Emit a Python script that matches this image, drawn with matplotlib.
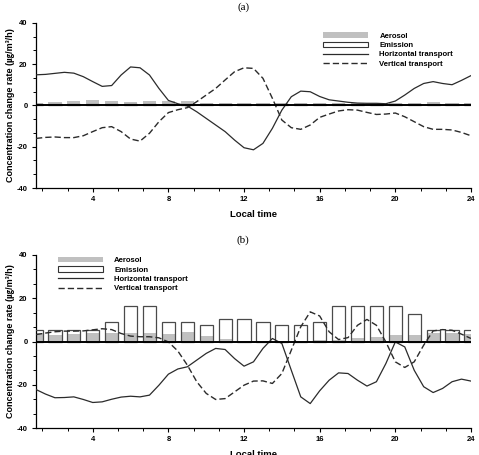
import matplotlib
matplotlib.use("Agg")
import matplotlib.pyplot as plt
import numpy as np
from matplotlib.ticker import MultipleLocator
from matplotlib.patches import Patch
from matplotlib.lines import Line2D

plt.rcParams['font.family'] = ['Liberation Sans', 'Noto Sans CJK KR', 'DejaVu Sans']
plt.rcParams['axes.unicode_minus'] = False

# hourly bars
hours = list(range(1, 25))
aerosol_a = [1.3, 1.6, 2.1, 2.4, 2.1, 1.8, 1.9, 1.9, 1.9, 1.3, 1.3, 1.0,
             1.0, 1.0, 1.0, 1.0, 1.0, 1.0, 1.0, 1.0, 1.0, 1.6, 1.2, 1.2]
emission_a = [0.5, 0.5, 0.5, 0.5, 0.5, 0.5, 0.5, 0.5, 0.5, 0.5, 0.5, 0.5,
              0.5, 0.5, 0.5, 0.5, 0.6, 0.8, 0.8, 0.8, 0.5, 0.5, 0.5, 0.5]
aerosol_b = [3.7, 3.2, 3.4, 3.7, 3.7, 3.9, 3.9, 3.4, 4.5, 2.5, 1.2, 0.3,
             0.2, 0.2, 0.2, 0.8, 0.5, 1.8, 2.3, 2.9, 3.2, 3.7, 3.7, 3.4]
emission_b = [5.5, 5.5, 5.5, 5.5, 9.2, 16.2, 16.2, 9.2, 9.2, 7.6, 10.6, 10.6,
              9.2, 7.7, 7.7, 9.2, 16.3, 16.3, 16.3, 16.3, 12.9, 5.5, 5.5, 5.5]

# transport curves, read every half hour (1.0, 1.5, ..., 24.0)
t_half = [1 + 0.5 * i for i in range(47)]
horiz_a = [14.8, 15.0, 15.5, 16.0, 15.6, 13.9, 11.5, 9.2, 9.6, 14.7, 18.6, 18.2,
           14.7, 8.2, 2.4, 0.8, -0.3, -3.1, -6.3, -9.5, -12.7, -16.8, -20.5, -21.5,
           -18.4, -11.1, -2.3, 4.2, 6.9, 6.6, 4.3, 2.7, 2.1, 1.5, 1.1, 1.0,
           1.0, 0.8, 2.1, 5.0, 8.2, 10.6, 11.5, 10.6, 10.0, 12.1, 14.4]
vert_a = [-16.0, -15.5, -15.3, -15.6, -15.6, -14.7, -12.7, -10.8, -10.3, -12.7, -16.3, -17.3,
          -13.5, -7.9, -3.5, -2.1, -1.1, 1.8, 5.0, 8.2, 12.3, 16.3, 18.2, 17.9,
          13.1, 3.4, -7.1, -10.8, -11.6, -9.5, -5.8, -4.2, -2.7, -2.1, -2.3, -3.4,
          -4.4, -4.2, -3.7, -5.5, -7.9, -10.3, -11.6, -11.6, -11.9, -13.1, -14.7]
horiz_b = [-22.2, -24.3, -26.0, -25.9, -25.6, -26.8, -28.2, -27.9, -26.7, -25.7, -25.3, -25.6,
           -24.8, -20.2, -15.1, -12.7, -11.7, -8.6, -5.5, -3.2, -3.7, -7.9, -11.4, -9.4,
           -3.2, 1.4, -0.9, -13.3, -25.6, -28.7, -22.8, -17.9, -14.5, -14.8, -17.9, -20.6,
           -18.6, -10.2, -0.2, -2.5, -13.3, -20.9, -23.6, -21.7, -18.6, -17.4, -18.3]
vert_b = [3.2, 3.9, 4.5, 4.8, 4.8, 4.9, 5.4, 5.9, 5.5, 3.7, 2.5, 2.2,
          2.2, 1.7, -0.2, -4.4, -10.9, -18.6, -24.0, -26.8, -26.4, -23.3, -20.2, -18.3,
          -18.2, -19.4, -14.8, -4.0, 6.8, 13.7, 11.8, 4.5, 0.9, 1.8, 7.5, 10.2,
          7.5, -0.2, -9.4, -12.0, -9.4, -1.7, 4.9, 5.5, 5.2, 3.4, 1.4]

fig = plt.figure(figsize=(4.79, 4.55), dpi=100)
ax_a = fig.add_axes([0.0752, 0.5868, 0.908, 0.3632])
ax_b = fig.add_axes([0.0752, 0.0593, 0.908, 0.3803])

line_col = '#2b2b2b'
ylab = 'Concentration change rate (\u338d/m\u00b3/h)'


def draw_panel(ax, aerosol, emission, horiz, vert, leg_loc):
    ax.bar(hours, aerosol, width=0.7, color='#c0c0c0', edgecolor='none', zorder=2)
    ax.bar(hours, emission, width=0.7, facecolor='none', edgecolor='#4a4a4a',
           linewidth=0.9, zorder=3)
    ax.plot(t_half, horiz, color=line_col, lw=0.9, zorder=4)
    ax.plot(t_half, vert, color=line_col, lw=1.0, dashes=(4.5, 2.2), zorder=4)
    ax.axhline(0, color='black', lw=1.4, zorder=5)

    ax.set_xlim(1, 24)
    ax.set_ylim(-40, 40)
    ax.xaxis.set_major_locator(MultipleLocator(4))
    ax.xaxis.set_minor_locator(MultipleLocator(4 / 3))
    ax.yaxis.set_major_locator(MultipleLocator(20))
    ax.yaxis.set_minor_locator(MultipleLocator(20 / 3))
    ax.tick_params(which='major', length=3, width=0.8, labelsize=5.5, pad=3)
    ax.tick_params(which='minor', length=2, width=0.7)
    for lbl in ax.get_xticklabels() + ax.get_yticklabels():
        lbl.set_fontweight('bold')
    ax.spines['top'].set_visible(False)
    ax.spines['right'].set_visible(False)
    for s in ('left', 'bottom'):
        ax.spines[s].set_linewidth(0.9)

    ax.set_xlabel('Local time', fontsize=6.8, fontweight='bold', labelpad=5)
    ax.set_ylabel(ylab, fontsize=6.5, fontweight='bold', labelpad=1)

    handles = [
        Patch(facecolor='#c0c0c0', edgecolor='none'),
        Patch(facecolor='white', edgecolor='#333333', linewidth=0.8),
        Line2D([], [], color=line_col, lw=0.9),
        Line2D([], [], color=line_col, lw=1.0, dashes=(4.5, 2.2)),
    ]
    labels = ['Aerosol', 'Emission', 'Horizontal transport', 'Vertical transport']
    ax.legend(handles, labels, loc=leg_loc, frameon=False,
              prop={'size': 5.6, 'weight': 'bold'}, handlelength=5.8,
              handleheight=0.7, handletextpad=1.4, labelspacing=0.25)


draw_panel(ax_a, aerosol_a, emission_a, horiz_a, vert_a, 'upper right')
draw_panel(ax_b, aerosol_b, emission_b, horiz_b, vert_b, 'upper left')

ax_a.get_legend().set_bbox_to_anchor((0.975, 0.985))
ax_b.get_legend().set_bbox_to_anchor((0.035, 1.03))

fig.text(0.508, 0.984, '(a)', ha='center', va='center', fontsize=8,
         family='Liberation Serif')
fig.text(0.508, 0.471, '(b)', ha='center', va='center', fontsize=8,
         family='Liberation Serif')

fig.savefig('out.png', dpi=100)
